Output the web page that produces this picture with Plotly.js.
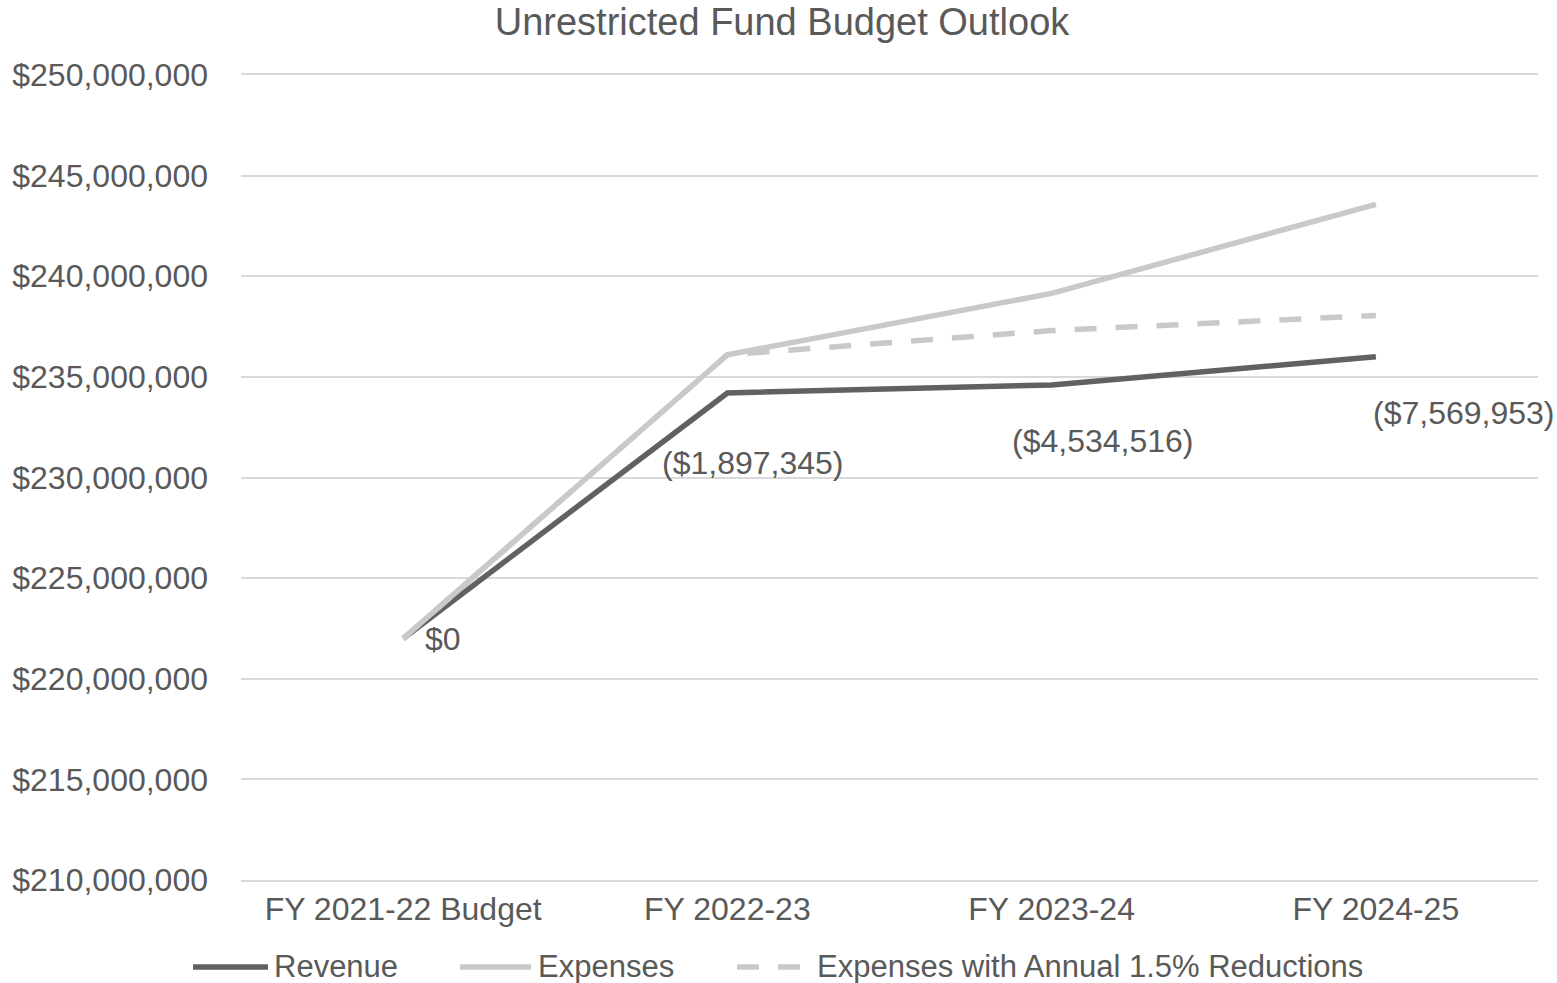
<!DOCTYPE html>
<html>
<head>
<meta charset="utf-8">
<script src="https://cdn.plot.ly/plotly-3.0.1.min.js"></script>
<style>
  html, body { margin: 0; padding: 0; background: #ffffff; }
  #chart { width: 1557px; height: 983px; }
</style>
</head>
<body>
<div id="chart"></div>
<script>
const categories = ["FY 2021-22 Budget", "FY 2022-23", "FY 2023-24", "FY 2024-25"];
const revenue = [222000000, 234200000, 234600000, 236000000];
const expenses = [222000000, 236100000, 239150000, 243570000];
const expensesReduced = [222000000, 236100000, 237300000, 238050000];
const deficitLabels = ["$0", "($1,897,345)", "($4,534,516)", "($7,569,953)"];
const seriesNames = ["Revenue", "Expenses", "Expenses with Annual 1.5% Reductions"];
const yTickValues = [210000000, 215000000, 220000000, 225000000, 230000000, 235000000, 240000000, 245000000, 250000000];

const FONT = "Liberation Sans, Arial, Helvetica, sans-serif";
const TXT = "#595959";
const COLORS = ["#616161", "#c9c9c9", "#c9c9c9"];
const DASHES = ["solid", "solid", "22px,19px"];
const LW = 5.5;

const seriesData = [revenue, expenses, expensesReduced];
const traces = seriesData.map((vals, i) => ({
  x: categories, y: vals, name: seriesNames[i], type: "scatter", mode: "lines",
  line: { color: COLORS[i], width: LW, dash: DASHES[i] }, showlegend: false
}));

// plot area geometry (pixels) for paper conversions
const L = 241, R = 19, T = 75, B = 103, W = 1557, H = 983;
const PW = W - L - R, PH = H - T - B;
const px2x = p => (p - L) / PW;
const py2y = p => (H - B - p) / PH;

const labelShifts = [[40, 0], [25, -70], [51, -56], [88, -56]];
const annotations = deficitLabels.map((t, i) => ({
  x: categories[i], y: revenue[i], xref: "x", yref: "y",
  text: t, showarrow: false,
  xshift: labelShifts[i][0], yshift: labelShifts[i][1],
  font: { family: FONT, size: 32, color: TXT }
}));

// custom legend (longer line samples, like the original)
const legendY = py2y(967);
const legendLines = [[193, 268], [460, 531], [737, 800]];
const legendTextX = [272, 536, 815];
const shapes = [];
seriesNames.forEach((n, i) => {
  shapes.push({ type: "line", xref: "paper", yref: "paper",
    x0: px2x(legendLines[i][0]), x1: px2x(legendLines[i][1]), y0: legendY, y1: legendY,
    line: { color: COLORS[i], width: LW, dash: DASHES[i] } });
  annotations.push({ xref: "paper", yref: "paper", x: px2x(legendTextX[i]), y: legendY,
    xanchor: "left", yanchor: "middle", showarrow: false, text: n,
    font: { family: FONT, size: 31, color: TXT } });
});

const fmt = v => "$" + v.toLocaleString("en-US");

const layout = {
  width: W, height: H,
  paper_bgcolor: "#ffffff", plot_bgcolor: "#ffffff",
  margin: { l: L, r: R, t: T, b: B },
  title: { text: "Unrestricted Fund Budget Outlook", x: 782 / W, xref: "container", xanchor: "center",
           y: 1 - 22 / H, yref: "container", yanchor: "middle",
           font: { family: FONT, size: 38, color: TXT } },
  xaxis: { type: "category", range: [-0.5, 3.5], showgrid: false, zeroline: false,
           showline: true, mirror: true, linecolor: "#d9d9d9", linewidth: 2, ticks: "",
           tickfont: { family: FONT, size: 32, color: TXT }, fixedrange: true },
  yaxis: { range: [210000000, 250000000], tickmode: "array", tickvals: yTickValues,
           ticktext: yTickValues.map(fmt), showgrid: true, gridcolor: "#d9d9d9", gridwidth: 2,
           zeroline: false, showline: false, ticks: "", ticklabelstandoff: 32,
           tickfont: { family: FONT, size: 32, color: TXT }, fixedrange: true },
  showlegend: false,
  shapes: shapes,
  annotations: annotations
};

Plotly.newPlot("chart", traces, layout, { displayModeBar: false, staticPlot: true });
</script>
</body>
</html>
